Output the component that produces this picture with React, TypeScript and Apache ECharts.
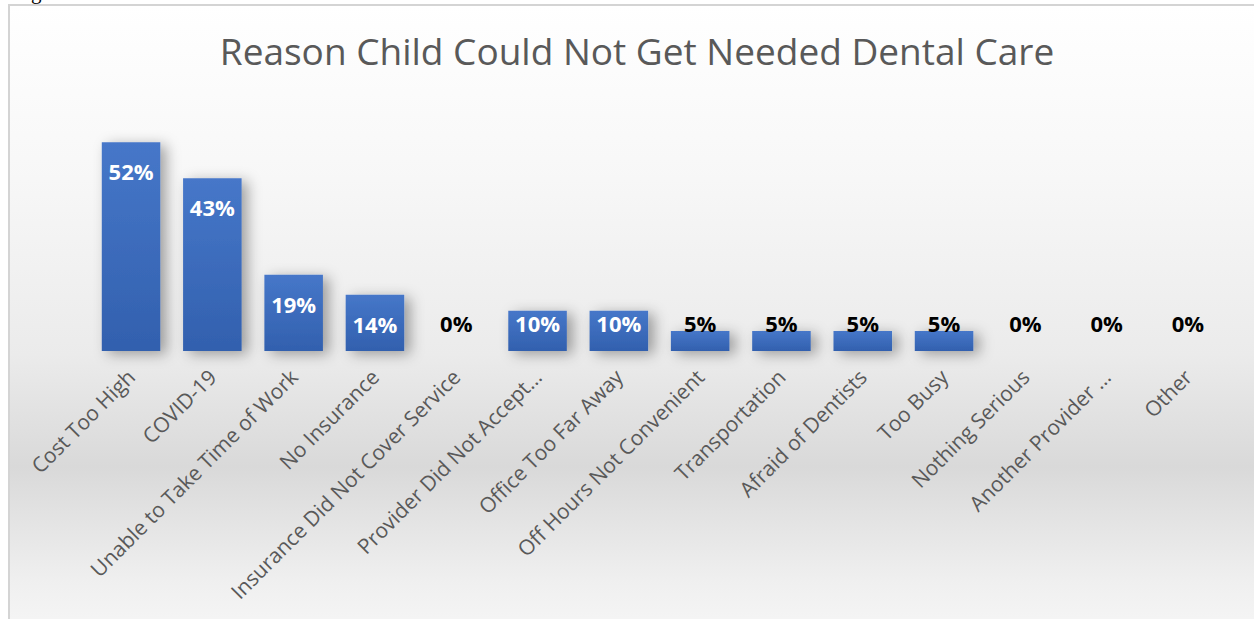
import React, { useEffect, useRef } from "react";
import * as echarts from "echarts";

const TITLE = "Reason Child Could Not Get Needed Dental Care";
const categories = [
  "Cost Too High",
  "COVID-19",
  "Unable to Take Time of Work",
  "No Insurance",
  "Insurance Did Not Cover Service",
  "Provider Did Not Accept…",
  "Office Too Far Away",
  "Off Hours Not Convenient",
  "Transportation",
  "Afraid of Dentists",
  "Too Busy",
  "Nothing Serious",
  "Another Provider …",
  "Other",
];
const values = [52, 43, 19, 14, 0, 10, 10, 5, 5, 5, 5, 0, 0, 0];

const FONT = "'Open Sans', 'Noto Sans', sans-serif";

export default function App() {
  const ref = useRef<HTMLDivElement>(null);
  useEffect(() => {
    if (!ref.current) return;
    const chart = echarts.init(ref.current, null, { renderer: "svg" });
    const data = values.map((v) => {
      const big = v >= 14;
      return {
        value: v,
        label: {
          show: true,
          position: big ? "insideTop" : "insideBottom",
          distance: big ? 18 : 17,
          color: v >= 10 ? "#ffffff" : "#000000",
        },
      };
    });
    chart.setOption({
      animation: false,
      backgroundColor: "#ffffff",
      title: {
        text: TITLE,
        left: 632,
        textAlign: "center",
        top: 27,
        textStyle: {
          fontFamily: FONT,
          fontSize: 37,
          fontWeight: "normal",
          color: "#595959",
        },
      },
      graphic: [
        {
          type: "rect",
          z: -10,
          silent: true,
          shape: { x: 9, y: 5, width: 1400, height: 700 },
          style: {
            fill: new echarts.graphic.LinearGradient(0, 0, 0, 1, [
              { offset: 0, color: "#ffffff" },
              { offset: 0.25, color: "#f7f7f7" },
              { offset: 0.5, color: "#ebebeb" },
              { offset: 0.66, color: "#d9d9d9" },
              { offset: 0.82, color: "#efefef" },
              { offset: 1, color: "#ffffff" },
            ]),
            stroke: "#d4d4d4",
            lineWidth: 2,
          },
        },
        {
          type: "text",
          z: 10,
          silent: true,
          x: 31,
          y: -19,
          style: {
            text: "g",
            fontFamily: "'Liberation Serif', serif",
            fontSize: 21,
            fill: "#000000",
          },
        },
      ],
      grid: { left: 90.4, right: 25.4, top: 110, bottom: 268, containLabel: false },
      xAxis: {
        type: "category",
        data: categories,
        axisLine: { show: false },
        axisTick: { show: false },
        axisLabel: {
          interval: 0,
          rotate: 45,
          margin: 22,
          fontFamily: FONT,
          fontSize: 21,
          color: "#595959",
        },
      },
      yAxis: {
        type: "value",
        min: 0,
        max: 60,
        show: false,
        splitLine: { show: false },
      },
      series: [
        {
          type: "bar",
          data,
          barCategoryGap: "28%",
          itemStyle: {
            color: new echarts.graphic.LinearGradient(0, 0, 0, 1, [
              { offset: 0, color: "#4677c9" },
              { offset: 1, color: "#3260ae" },
            ]),
            shadowColor: "rgba(0,0,0,0.35)",
            shadowBlur: 14,
            shadowOffsetX: 6,
            shadowOffsetY: 3,
          },
          label: {
            show: true,
            formatter: (p: any) => `${p.value}%`,
            fontFamily: FONT,
            fontSize: 22,
            fontWeight: "bold",
          },
        },
      ],
    });
    return () => chart.dispose();
  }, []);
  return (
    <div
      ref={ref}
      style={{ position: "absolute", left: 0, top: 0, width: 1254, height: 619 }}
    />
  );
}
